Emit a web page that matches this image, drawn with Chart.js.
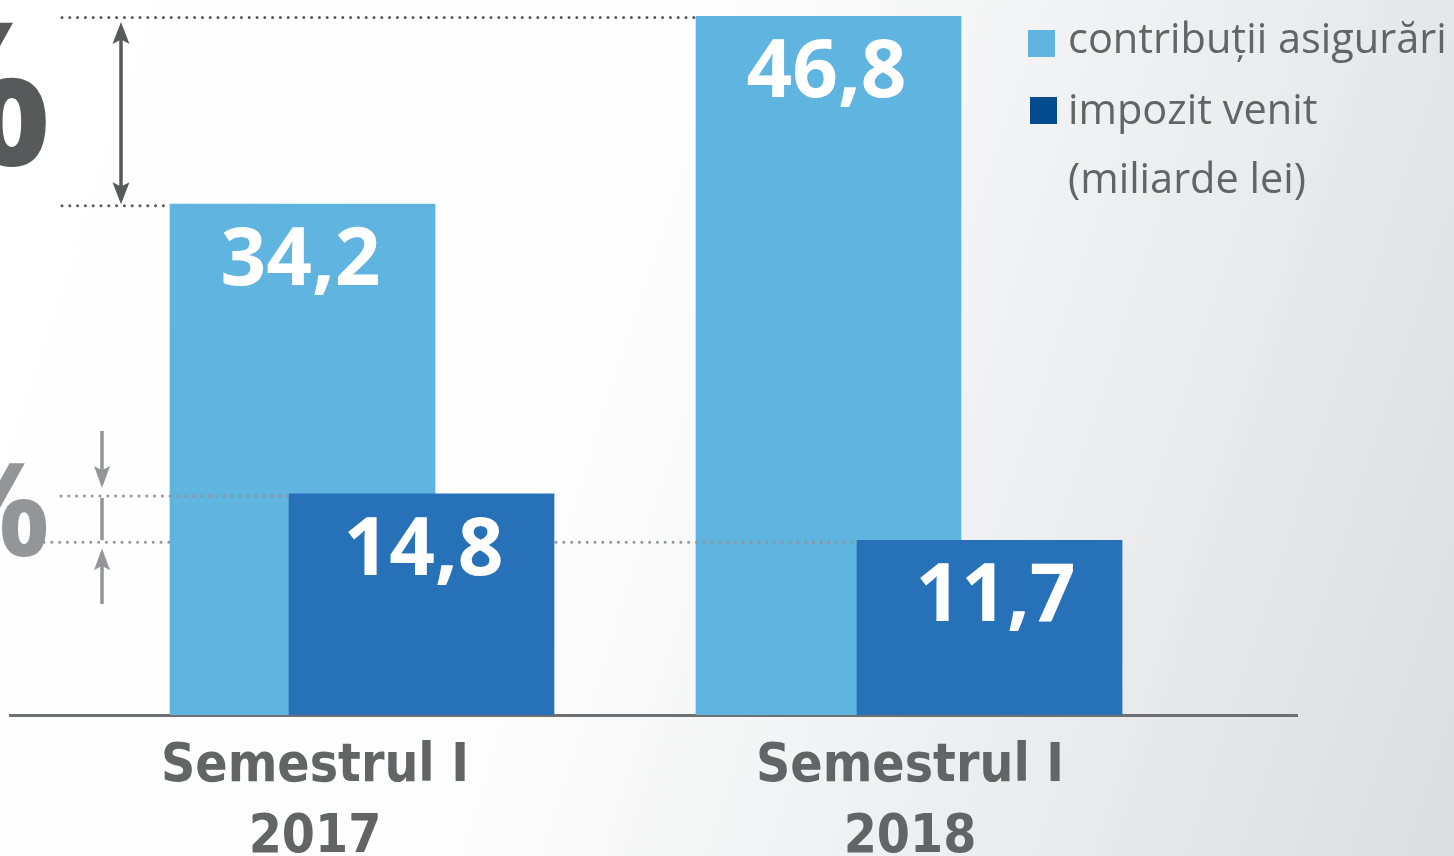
<!DOCTYPE html>
<html lang="ro">
<head>
<meta charset="utf-8">
<title>Contribuții asigurări și impozit venit</title>
<script src="https://cdn.jsdelivr.net/npm/chart.js@4.4.1/dist/chart.umd.min.js"></script>
<style>
  html, body { margin: 0; padding: 0; }
  body {
    width: 1454px; height: 856px; overflow: hidden;
    background: linear-gradient(108deg, #ffffff 0%, #fdfdfd 42%, #e9eaec 78%, #dcdde0 100%);
  }
  #wrap { position: relative; width: 1454px; height: 856px; }
</style>
</head>
<body>
<div id="wrap"><canvas id="chart" width="1454" height="856"></canvas></div>
<script>
/* ── Data ─────────────────────────────────────────── */
const periods     = ['Semestrul I', 'Semestrul I'];
const years       = ['2017', '2018'];
const contributii = [34.2, 46.8];
const impozit     = [14.8, 11.7];
const seriesNames = ['contribuții asigurări', 'impozit venit'];
const unitNote    = '(miliarde lei)';

/* ── Style ────────────────────────────────────────── */
const LIGHT = '#5fb4e0';
const DARK  = '#2671b8';
const LEGEND_DARK = '#034b8f';
const TEXT  = '#636466';
const ARROW_DARK = '#58595b';
const ARROW_LIGHT = '#939598';
const SANS  = '"Open Sans", "Noto Sans", sans-serif';
const NARROW = '"Liberation Sans Narrow", "DejaVu Sans Condensed", sans-serif';

const fmt = v => v.toFixed(1).replace('.', ',');

/* ── Helpers ──────────────────────────────────────── */
function dotted(ctx, x1, x2, y, color) {
  ctx.save();
  ctx.strokeStyle = color;
  ctx.lineWidth = 3;
  ctx.lineCap = 'round';
  ctx.setLineDash([0, 7.8]);
  ctx.beginPath();
  ctx.moveTo(x1, y);
  ctx.lineTo(x2, y);
  ctx.stroke();
  ctx.restore();
}
function head(ctx, x, tip, dir, color, len, w) {
  // dir: +1 points down, -1 points up
  ctx.fillStyle = color;
  ctx.beginPath();
  ctx.moveTo(x, tip);
  ctx.lineTo(x - w / 2, tip - dir * len);
  ctx.lineTo(x, tip - dir * len * 0.8);
  ctx.lineTo(x + w / 2, tip - dir * len);
  ctx.closePath();
  ctx.fill();
}
function stem(ctx, x, y1, y2, color, w) {
  ctx.strokeStyle = color;
  ctx.lineWidth = w;
  ctx.beginPath();
  ctx.moveTo(x, y1);
  ctx.lineTo(x, y2);
  ctx.stroke();
}

/* ── Decorations plugin ───────────────────────────── */
const decor = {
  id: 'decor',
  beforeDatasetsDraw(chart) {
    const ctx = chart.ctx;
    ctx.save();
    // cropped big percentages on the left edge
    ctx.textAlign = 'right';
    ctx.textBaseline = 'alphabetic';
    ctx.fillStyle = ARROW_DARK;
    ctx.font = 'bold 200px ' + SANS;
    ctx.fillText('%', 52, 165);
    ctx.fillStyle = ARROW_LIGHT;
    ctx.font = 'bold 130px ' + SANS;
    ctx.fillText('%', 50, 556);
    ctx.restore();
  },
  afterDatasetsDraw(chart) {
    const ctx = chart.ctx;
    const y = chart.scales.y;
    const L = chart.getDatasetMeta(0).data;
    const D = chart.getDatasetMeta(1).data;
    const left = b => b.x - b.width / 2;
    const right = b => b.x + b.width / 2;

    // value labels inside bars
    ctx.save();
    ctx.fillStyle = '#ffffff';
    ctx.textAlign = 'center';
    ctx.textBaseline = 'alphabetic';
    ctx.font = 'bold 80px ' + SANS;
    L.forEach((b, i) => ctx.fillText(fmt(contributii[i]), b.x - 2, b.y + 81));
    D.forEach((b, i) => ctx.fillText(fmt(impozit[i]), b.x + 2 + i * 4, b.y + 81));
    ctx.restore();

    // dotted guide lines
    const yTop = y.getPixelForValue(contributii[1]);
    const yMid = y.getPixelForValue(contributii[0]);
    const yA = y.getPixelForValue(impozit[0]);
    const yB = y.getPixelForValue(impozit[1]);
    dotted(ctx, 62, left(L[1]), yTop + 1.5, ARROW_DARK);
    dotted(ctx, 62, left(L[0]), yMid + 1.5, ARROW_DARK);
    dotted(ctx, 61, left(D[0]), yA + 2, ARROW_LIGHT);
    dotted(ctx, 44, left(L[0]), yB + 2, ARROW_LIGHT);
    dotted(ctx, right(D[0]) + 2, left(D[1]), yB + 2, ARROW_LIGHT);

    // arrows
    ctx.save();
    stem(ctx, 121, yTop + 20, yMid - 16, ARROW_DARK, 3.5);
    head(ctx, 121, yTop + 6, -1, ARROW_DARK, 22, 17);
    head(ctx, 121, yMid, 1, ARROW_DARK, 22, 17);

    stem(ctx, 102, 431, yA - 22, ARROW_LIGHT, 3.5);
    head(ctx, 102, yA - 6, 1, ARROW_LIGHT, 22, 16);
    stem(ctx, 102, yA + 4, yB, ARROW_LIGHT, 3.5);
    stem(ctx, 102, yB + 24, 604, ARROW_LIGHT, 3.5);
    head(ctx, 102, yB + 8, -1, ARROW_LIGHT, 22, 16);
    ctx.restore();

    // legend
    ctx.save();
    ctx.fillStyle = LIGHT;
    ctx.fillRect(1028, 30, 27, 27);
    ctx.fillStyle = LEGEND_DARK;
    ctx.fillRect(1030, 97, 27, 27);
    ctx.fillStyle = TEXT;
    ctx.font = '41.5px ' + SANS;
    ctx.textAlign = 'left';
    ctx.fillText(seriesNames[0], 1068, 53);
    ctx.fillText(seriesNames[1], 1068, 124);
    ctx.fillText(unitNote, 1068, 193);
    ctx.restore();
  }
};

/* ── Chart ────────────────────────────────────────── */
const toPoints = arr => arr.map((v, i) => ({ x: i, y: v }));
const noPad = s => { s.paddingLeft = 0; s.paddingRight = 0; };

new Chart(document.getElementById('chart'), {
  type: 'bar',
  data: {
    datasets: [
      { label: seriesNames[0], data: toPoints(contributii), xAxisID: 'xL',
        backgroundColor: LIGHT, barThickness: 265, grouped: false, order: 2 },
      { label: seriesNames[1], data: toPoints(impozit), xAxisID: 'xD',
        backgroundColor: DARK, barThickness: 265, grouped: false, order: 1 }
    ]
  },
  options: {
    responsive: false,
    animation: false,
    devicePixelRatio: 1,
    layout: { padding: { left: 10, right: 157, top: 16, bottom: 0 } },
    plugins: { legend: { display: false }, tooltip: { enabled: false } },
    scales: {
      y: { display: false, min: 0, max: Math.max(...contributii, ...impozit) },
      // bar placement axes (category index 0,1 -> design positions)
      xL: { type: 'linear', display: false, offset: false, bounds: 'data',
            min: -0.5561, max: 1.8907, afterFit: noPad },
      xD: { type: 'linear', display: false, offset: false, bounds: 'data',
            min: -0.7245, max: 1.5413, afterFit: noPad },
      // visible category labels + baseline
      x: {
        type: 'linear', position: 'bottom', offset: false, bounds: 'data',
        min: -0.5126, max: 1.6504,
        grid: { display: false, drawTicks: false, offset: false },
        border: { display: true, color: '#6e6f71', width: 3 },
        afterBuildTicks: s => { s.ticks = years.map((_, i) => ({ value: i })); },
        afterFit: s => { s.height = 141; noPad(s); },
        ticks: {
          autoSkip: false, maxRotation: 0, padding: 17,
          color: TEXT,
          font: { family: NARROW, size: 53, weight: 'bold', lineHeight: 1.34 },
          callback: v => [periods[v], years[v]]
        }
      }
    }
  },
  plugins: [decor]
});
</script>
</body>
</html>
